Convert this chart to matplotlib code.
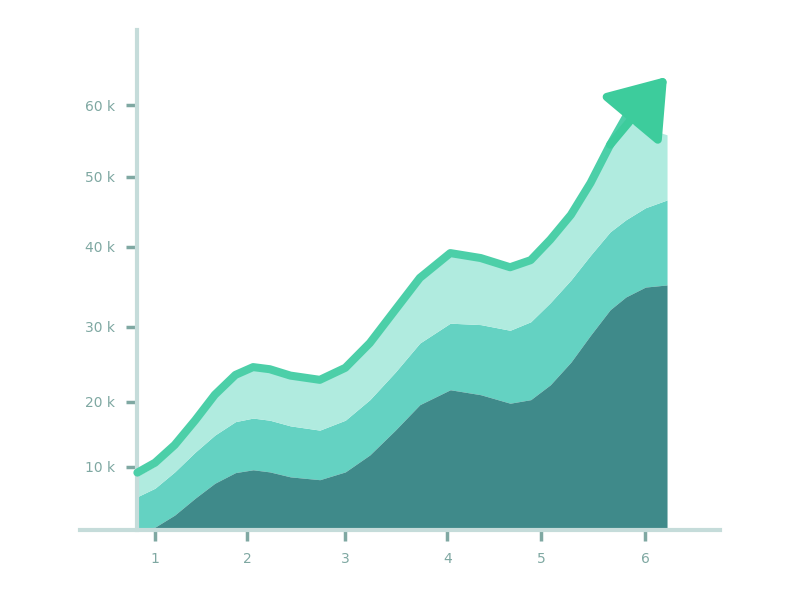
import matplotlib
matplotlib.use("Agg")
import matplotlib.pyplot as plt
import numpy as np

# values
x = [0.82, 1.00, 1.20, 1.41, 1.61, 1.82, 2.00, 2.17, 2.38, 2.68, 2.94, 3.19, 3.45,
     3.70, 4.01, 4.32, 4.62, 4.83, 5.03, 5.24, 5.44, 5.64, 5.80, 6.00, 6.22]
base = [0.0, 0.4, 2.1, 4.5, 6.6, 8.1, 8.5, 8.2, 7.5, 7.1, 8.2, 10.6, 14.1,
        17.7, 19.8, 19.1, 17.9, 18.4, 20.5, 23.7, 27.5, 31.1, 32.9, 34.3, 34.6]
middle = [4.7, 5.9, 8.2, 11.0, 13.4, 15.3, 15.8, 15.5, 14.7, 14.1, 15.5, 18.4, 22.3,
          26.4, 29.2, 29.0, 28.2, 29.4, 32.1, 35.3, 38.8, 42.1, 43.8, 45.5, 46.6]
upper = [7.6, 9.0, 11.6, 15.1, 18.7, 21.5, 22.6, 22.3, 21.4, 20.8, 22.5, 26.0, 30.7,
         35.2, 38.7, 38.0, 36.7, 37.7, 40.6, 44.1, 48.6, 54.0, 57.6, 56.8, 55.8]
trend = [8.1, 9.5, 12.0, 15.5, 19.1, 21.9, 23.0, 22.7, 21.8, 21.2, 22.9, 26.4, 31.1,
         35.6, 39.1, 38.4, 37.1, 38.1, 41.0, 44.5, 49.0, 54.4, 58.3]
trend_tip = (6.22, 64.0)

xticks = [1.0, 1.94, 2.94, 3.98, 4.94, 6.0]
xlabels = ["1", "2", "3", "4", "5", "6"]
yticks = [8.9, 18.1, 28.7, 40.0, 49.9, 60.0]
ylabels = ["10 k", "20 k", "30 k", "40 k", "50 k", "60 k"]

fig = plt.figure(figsize=(8, 6), dpi=100)
ax = fig.add_axes([0.1, 0.1167, 0.8, 0.8333])
ax.set_xlim(0.235, 6.76)
ax.set_ylim(0, 70.6)

zero = np.zeros(len(x))
ax.fill_between(x, zero, base, color="#3f8a8a", lw=0, zorder=3)
ax.fill_between(x, base, middle, color="#64d2c2", lw=0, zorder=2)
ax.fill_between(x, middle, upper, color="#b0ebdf", lw=0, zorder=2)

n = len(trend)
ax.plot(x[:n], trend, color="#4ccfa8", lw=5.8, solid_capstyle="round",
        solid_joinstyle="round", zorder=4)
# arrow head at the end of the trend line
ax.annotate("", xy=trend_tip, xytext=(x[n - 2], trend[-2]),
            arrowprops=dict(arrowstyle="-|>,head_length=0.85,head_width=0.6",
                            mutation_scale=40, color="#3dcc9c", lw=5.8,
                            shrinkA=0, shrinkB=0), zorder=5)

for s in ["top", "right"]:
    ax.spines[s].set_visible(False)
ax.spines["left"].set_position(("data", 0.82))
ax.spines["left"].set_color("#c5dcda")
ax.spines["left"].set_linewidth(3)
ax.spines["bottom"].set_color("#c5dcda")
ax.spines["bottom"].set_linewidth(3)
ax.spines["bottom"].set_zorder(6)

ax.set_xticks(xticks)
ax.set_xticklabels(xlabels)
ax.set_yticks(yticks)
ax.set_yticklabels(ylabels)
ax.tick_params(axis="both", colors="#7fa8a2", labelsize=10, width=2.5, length=8)
ax.tick_params(axis="x", pad=8)
ax.tick_params(axis="y", pad=8)

fig.savefig("out.png", dpi=100)
